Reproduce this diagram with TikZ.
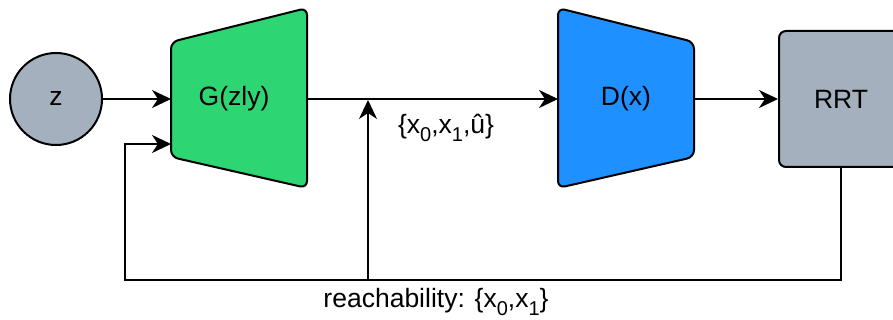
\documentclass[tikz,border=0pt]{standalone}
\usepackage{fontspec}
\setmainfont{Liberation Sans}
\usetikzlibrary{arrows.meta}
\definecolor{zgrey}{HTML}{A4B0BE}
\definecolor{ggreen}{HTML}{2ED573}
\definecolor{dblue}{HTML}{1E90FF}
\newcommand\mysub[1]{\raisebox{-0.32em}{\fontsize{20}{22}\selectfont #1}}
\tikzset{
  line/.style={line width=2pt, draw=black},
  arr/.style={line, -{Stealth[length=19pt,width=18pt,inset=6pt]}},
  shapeline/.style={line width=2pt, draw=black, rounded corners=7pt, line join=round},
  lbl/.style={font=\fontsize{26.5}{30}\selectfont, inner sep=0pt},
}
\begin{document}
\begin{tikzpicture}[x=1pt,y=-1pt]
\useasboundingbox (0,0) rectangle (893,320);
\clip (0,0) rectangle (893,320);
% z circle
\node[circle, draw=black, line width=2pt, fill=zgrey, minimum size=92pt, inner sep=0pt, lbl] (z) at (56,99) {z};
% G trapezoid
\filldraw[shapeline, fill=ggreen] (171,42) -- (307,8) -- (307,188) -- (171,157) -- cycle;
\node[lbl] (G) at (234,99) {G(zly)};
\coordinate (Gin) at (171,99);
\coordinate (Gin2) at (171,144);
\coordinate (Gout) at (307,99);
% D trapezoid
\filldraw[shapeline, fill=dblue] (558,8) -- (694,42) -- (694,157) -- (558,188) -- cycle;
\node[lbl] (D) at (626,99) {D(x)};
\coordinate (Din) at (558,99);
\coordinate (Dout) at (694,99);
% RRT box
\node[draw=black, line width=2pt, fill=zgrey, rounded corners=7pt, minimum width=124pt, minimum height=136pt, inner sep=0pt, lbl] (rrt) at (841,99) {RRT};
% connectors
\draw[arr] (z.east) -- (Gin);
\draw[arr] (Gout) -- (Din);
\draw[arr] (Dout) -- (rrt.west);
\coordinate (fb1) at (rrt.south |- 0,280);
\coordinate (fb2) at (125,280);
\coordinate (fb3) at (125,144);
\draw[arr] (rrt.south) -- (fb1) -- (fb2) -- (fb3) -- (Gin2);
\coordinate (mb) at (368,280);
\coordinate (mt) at (368,100);
\draw[arr] (mb) -- (mt);
% labels
\node[lbl] (l1) at (446,128) {\{x\mysub{0},x\mysub{1},û\}};
\node[lbl] (l2) at (436,302) {reachability: \{x\mysub{0},x\mysub{1}\}};
\end{tikzpicture}
\end{document}
